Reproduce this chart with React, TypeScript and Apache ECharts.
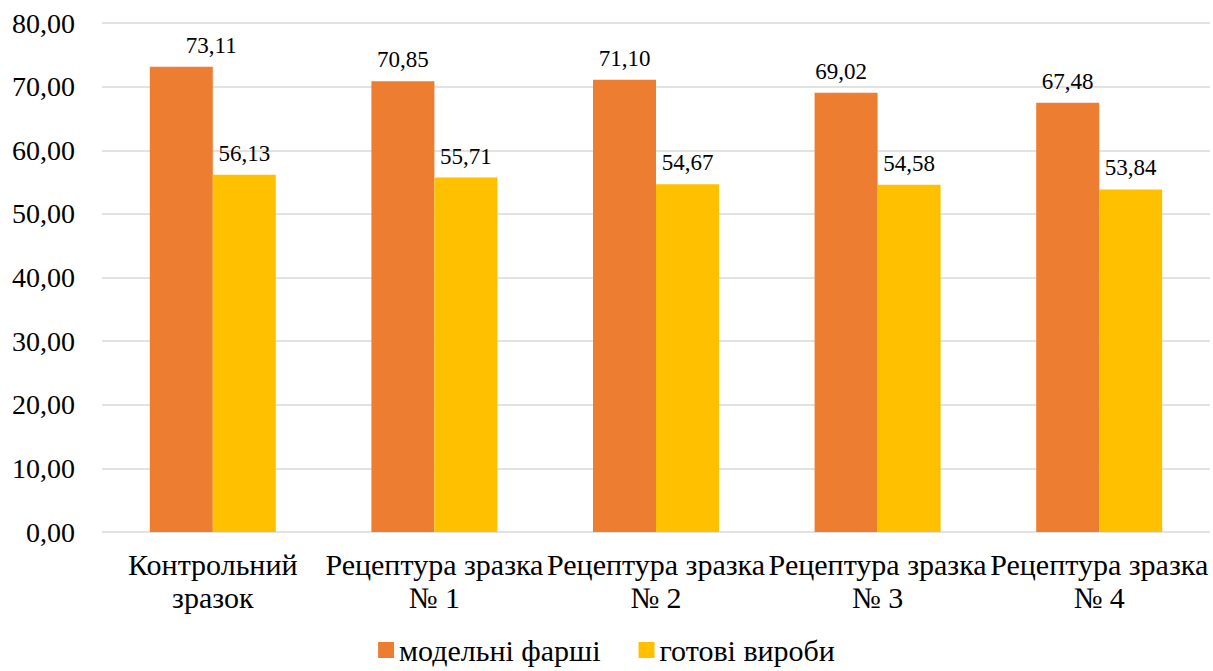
import React, { useEffect, useRef } from "react";
import * as echarts from "echarts";

const categories = ["Контрольний\nзразок", "Рецептура зразка\n№ 1", "Рецептура зразка\n№ 2", "Рецептура зразка\n№ 3", "Рецептура зразка\n№ 4"];
const seriesNames = ["модельні фарші", "готові вироби"];
const minced = [73.11, 70.85, 71.1, 69.02, 67.48];
const finished = [56.13, 55.71, 54.67, 54.58, 53.84];

// horizontal nudges of individual value labels, as placed in the original chart
const mincedLabelShift = [30, 0, 0, -5, 0];

const fmt = (v: number) => v.toFixed(2).replace(".", ",");
const FONT = "Liberation Serif";

const valueLabel = { show: true, position: "top", distance: 10, fontFamily: FONT, fontSize: 23, color: "#000", formatter: (p: any) => fmt(p.value) };

export default function App() {
  const ref = useRef<HTMLDivElement>(null);
  useEffect(() => {
    if (!ref.current) return;
    const chart = echarts.init(ref.current, null, { renderer: "svg" });
    chart.setOption({
      animation: false,
      textStyle: { fontFamily: FONT },
      grid: { left: 102, right: 3, top: 23, bottom: 139 },
      legend: {
        bottom: 1,
        left: "center",
        itemWidth: 16,
        itemHeight: 16,
        itemGap: 38,
        icon: "rect",
        textStyle: { fontFamily: FONT, fontSize: 30, color: "#000" },
        data: seriesNames,
      },
      xAxis: {
        type: "category",
        data: categories,
        axisLine: { show: false },
        axisTick: { show: false },
        axisLabel: { fontFamily: FONT, fontSize: 30, color: "#000", lineHeight: 33, margin: 16, interval: 0 },
      },
      yAxis: {
        type: "value",
        min: 0,
        max: 80,
        interval: 10,
        axisLine: { show: false },
        axisTick: { show: false },
        axisLabel: { fontFamily: FONT, fontSize: 28, color: "#000", margin: 27, formatter: (v: number) => fmt(v) },
        splitLine: { lineStyle: { color: "#d9d9d9", width: 1.5 } },
      },
      series: [
        {
          name: seriesNames[0],
          type: "bar",
          data: minced.map((v, i) => ({ value: v, label: { offset: [mincedLabelShift[i], 0] } })),
          barWidth: 63,
          barGap: "0%",
          itemStyle: { color: "#ED7D31" },
          label: valueLabel,
        },
        {
          name: seriesNames[1],
          type: "bar",
          data: finished,
          barWidth: 63,
          barGap: "0%",
          itemStyle: { color: "#FFC000" },
          label: valueLabel,
        },
      ],
    });
    return () => chart.dispose();
  }, []);
  return <div ref={ref} style={{ position: "fixed", left: 0, top: 0, width: 1213, height: 671, background: "#fff" }} />;
}
